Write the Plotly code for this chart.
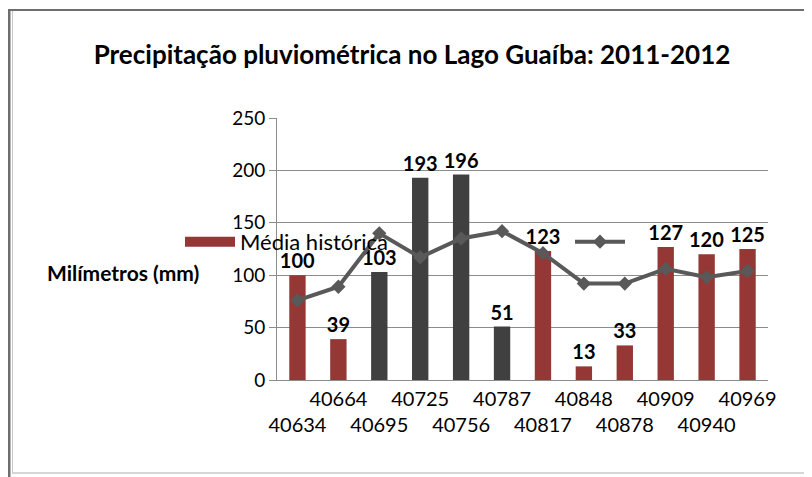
import plotly.graph_objects as go

# ---- data ----
categories = ["40634", "40664", "40695", "40725", "40756", "40787",
              "40817", "40848", "40878", "40909", "40940", "40969"]
precip = [100, 39, 103, 193, 196, 51, 123, 13, 33, 127, 120, 125]
highlight = [False, False, True, True, True, True,
             False, False, False, False, False, False]
media_historica = [76, 89, 140, 117, 135, 142, 121, 92, 92, 106, 98, 104]
y_ticks = [0, 50, 100, 150, 200, 250]

RED = "#953735"
GREY = "#404040"
LINE = "#595959"
FONT = "Lato"

# page offset (body margin) compensation: figure pixel = screen pixel - 8
OFF = 8
W, H = 812 - OFF, 477 - OFF
L, R, T, B = 277 - OFF, 768 - OFF, 118 - OFF, 380 - OFF

def px(x):  # screen pixel -> paper x
    return (x - OFF - L) / (R - L)

def py(y):  # screen pixel -> paper y
    return (B - (y - OFF)) / (B - T)

red_vals = [v if not h else None for v, h in zip(precip, highlight)]
grey_vals = [v if h else None for v, h in zip(precip, highlight)]

label_font = dict(family=FONT, size=20, color="#000000", weight="bold")

fig = go.Figure()
fig.add_trace(go.Bar(
    x=categories, y=red_vals, name="Média histórica", showlegend=False,
    marker=dict(color=RED, line=dict(width=0)),
    text=[str(v) if v is not None else "" for v in red_vals],
    textposition="outside", cliponaxis=False, constraintext="none",
    textfont=label_font,
))
fig.add_trace(go.Bar(
    x=categories, y=grey_vals, name="Precipitação", showlegend=False,
    marker=dict(color=GREY, line=dict(width=0)),
    text=[str(v) if v is not None else "" for v in grey_vals],
    textposition="outside", cliponaxis=False, constraintext="none",
    textfont=label_font,
))
# legend entry for the red bar series (wide Excel-style swatch)
fig.add_trace(go.Scatter(
    x=[None], y=[None], name="Média histórica", mode="lines",
    line=dict(color=RED, width=15), legend="legend", hoverinfo="skip",
))
fig.add_trace(go.Scatter(
    x=categories, y=media_historica, name=" ", mode="lines+markers",
    line=dict(color=LINE, width=4),
    marker=dict(symbol="diamond", size=11, color=LINE),
    legend="legend2",
))

ticktext = [("<br>" + c) if i % 2 == 0 else c for i, c in enumerate(categories)]

border_col_dark = "#6e6e6e"
border_col_light = "#c8c8c8"
shapes = [
    dict(type="line", xref="paper", yref="paper", x0=px(8), x1=px(820),
         y0=py(10), y1=py(10), line=dict(color=border_col_dark, width=2)),
    dict(type="line", xref="paper", yref="paper", x0=px(9), x1=px(9),
         y0=py(9), y1=py(480), line=dict(color=border_col_dark, width=3)),
    dict(type="line", xref="paper", yref="paper", x0=px(12.5), x1=px(12.5),
         y0=py(11), y1=py(473), line=dict(color=border_col_light, width=1)),
    dict(type="line", xref="paper", yref="paper", x0=px(12), x1=px(820),
         y0=py(473), y1=py(473), line=dict(color=border_col_light, width=1.5)),
]

fig.update_layout(
    width=W, height=H,
    margin=dict(l=L, r=W - R, t=T, b=H - B, autoexpand=False),
    paper_bgcolor="white", plot_bgcolor="white",
    barmode="overlay", bargap=0.6,
    font=dict(family=FONT, size=18, color="#000000"),
    title=dict(text="<b>Precipitação pluviométrica no Lago Guaíba: 2011-2012</b>",
               x=(412 - OFF) / W, xref="container", xanchor="center",
               y=1 - (55 - OFF) / H, yref="container", yanchor="middle",
               font=dict(family=FONT, size=26, color="#000000")),
    xaxis=dict(type="category", tickmode="array", tickvals=categories,
               ticktext=ticktext, tickangle=0, showgrid=False, showline=True,
               range=[-0.5, len(categories) - 0.5],
               linecolor="#8c8c8c", linewidth=1, ticks="",
               ticklabelstandoff=1,
               tickfont=dict(family=FONT, size=20, color="#000000")),
    yaxis=dict(range=[0, 250], tickvals=y_ticks, showgrid=True,
               gridcolor="#8c8c8c", gridwidth=1, showline=True,
               linecolor="#8c8c8c", linewidth=1, ticks="outside",
               ticklen=7, tickcolor="#8c8c8c", zeroline=False,
               tickfont=dict(family=FONT, size=19, color="#000000")),
    legend=dict(x=px(180), y=py(242), xanchor="left", yanchor="middle",
                orientation="h", bgcolor="rgba(0,0,0,0)", itemwidth=50,
                font=dict(family=FONT, size=22, color="#000000")),
    legend2=dict(x=px(570), y=py(242), xanchor="left", yanchor="middle",
                 orientation="h", bgcolor="rgba(0,0,0,0)", itemwidth=50,
                 font=dict(family=FONT, size=18, color="#000000")),
    shapes=shapes,
    annotations=[dict(text="<b>Milímetros (mm)</b>", xref="paper", yref="paper",
                      x=px(45), y=py(272), xanchor="left", yanchor="middle",
                      showarrow=False,
                      font=dict(family=FONT, size=21, color="#000000"))],
)

fig.write_html("out.html")
